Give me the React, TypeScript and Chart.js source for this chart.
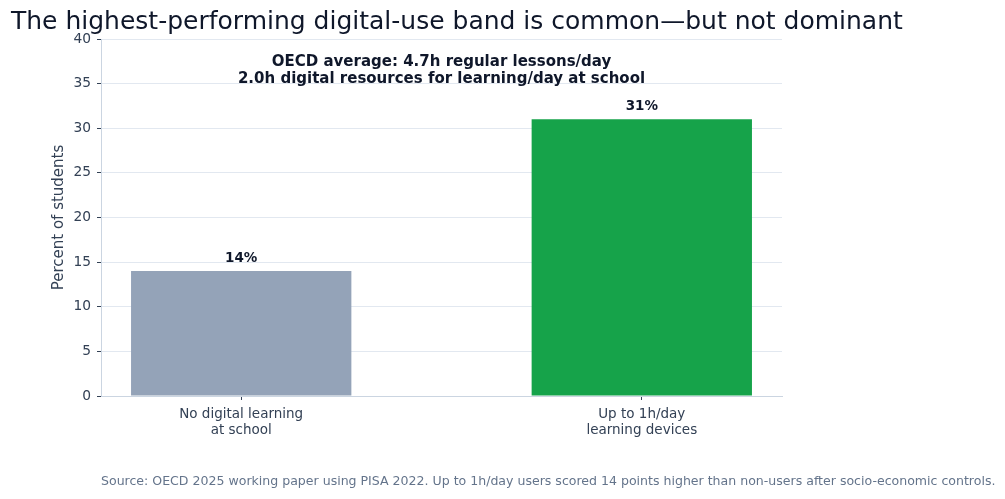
import React, { useEffect, useRef } from "react";
import { Chart, registerables } from "chart.js";

Chart.register(...registerables);

// Chart content
const titleText = "The highest-performing digital-use band is common—but not dominant";
const noteLines = [
  "OECD average: 4.7h regular lessons/day",
  "2.0h digital resources for learning/day at school",
];
const sourceText =
  "Source: OECD 2025 working paper using PISA 2022. Up to 1h/day users scored 14 points higher than non-users after socio-economic controls.";
const categoryLines = [
  ["No digital learning", "at school"],
  ["Up to 1h/day", "learning devices"],
];
const shareValues = [14, 31];
const barColors = ["#94a3b8", "#16a34a"];
const yTickValues = [0, 5, 10, 15, 20, 25, 30, 35, 40];

const FONT = "'DejaVu Sans', sans-serif";

const textPlugin = {
  id: "textLayer",
  afterDatasetsDraw(chart: any) {
    const { ctx, chartArea } = chart;
    ctx.save();
    // title
    ctx.fillStyle = "#0f172a";
    ctx.font = `25px ${FONT}`;
    ctx.textAlign = "left";
    ctx.textBaseline = "middle";
    ctx.fillText(titleText, 11, 22.5);

    // note inside the axes
    const cx = (chartArea.left + chartArea.right) / 2;
    ctx.font = `bold 15px ${FONT}`;
    ctx.textAlign = "center";
    noteLines.forEach((line, i) => {
      ctx.fillText(line, cx, chartArea.top + 23 + i * 17);
    });

    // value labels above bars
    const meta = chart.getDatasetMeta(0);
    ctx.font = `bold 13.5px ${FONT}`;
    meta.data.forEach((bar: any, i: number) => {
      ctx.fillText(`${shareValues[i]}%`, bar.x, bar.y - 13);
    });

    // source line
    ctx.font = `12.55px ${FONT}`;
    ctx.fillStyle = "#64748b";
    ctx.textAlign = "left";
    ctx.fillText(sourceText, chartArea.left, 481.5);
    ctx.restore();
  },
};

export default function App() {
  const canvasRef = useRef<HTMLCanvasElement | null>(null);

  useEffect(() => {
    if (!canvasRef.current) return;
    const chart = new Chart(canvasRef.current, {
      type: "bar",
      data: {
        datasets: [
          {
            data: shareValues.map((v, i) => ({ x: i, y: v })),
            backgroundColor: barColors,
            borderWidth: 0,
            barPercentage: 0.55,
            categoryPercentage: 1,
          },
        ],
      },
      options: {
        animation: false,
        responsive: true,
        maintainAspectRatio: false,
        layout: { padding: { left: 50, right: 223, top: 39, bottom: 0 } },
        plugins: {
          legend: { display: false },
          tooltip: { enabled: false },
        },
        scales: {
          x: {
            type: "linear",
            min: -0.35,
            max: 1.35,
            offset: false,
            afterBuildTicks: (scale: any) => {
              scale.ticks = categoryLines.map((_, i) => ({ value: i }));
            },
            afterFit: (scale: any) => {
              scale.height = 103;
            },
            ticks: {
              autoSkip: false,
              maxRotation: 0,
              padding: 6,
              color: "#334155",
              font: { family: FONT, size: 13.5 },
              callback: (v: any) => categoryLines[v as number] ?? "",
            },
            grid: {
              display: true,
              offset: false,
              drawOnChartArea: false,
              drawTicks: true,
              tickLength: 4,
              tickColor: "#334155",
            },
            border: { display: true, color: "#cbd5e1", width: 1 },
          },
          y: {
            min: 0,
            max: 40,
            afterBuildTicks: (scale: any) => {
              scale.ticks = yTickValues.map((v) => ({ value: v }));
            },
            afterFit: (scale: any) => {
              scale.width = 51;
            },
            ticks: {
              padding: 6,
              color: "#334155",
              font: { family: FONT, size: 13.8 },
            },
            grid: {
              color: "#e2e8f0",
              drawTicks: true,
              tickLength: 4,
              tickColor: "#334155",
            },
            border: { display: true, color: "#cbd5e1", width: 1 },
            title: {
              display: true,
              text: "Percent of students",
              color: "#334155",
              padding: 0,
              font: { family: FONT, size: 15 },
            },
          },
        },
      },
      plugins: [textPlugin],
    } as any);
    return () => chart.destroy();
  }, []);

  return (
    <div
      style={{
        position: "fixed",
        left: 0,
        top: 0,
        width: 1005,
        height: 499,
        background: "#ffffff",
      }}
    >
      <canvas ref={canvasRef} />
    </div>
  );
}
